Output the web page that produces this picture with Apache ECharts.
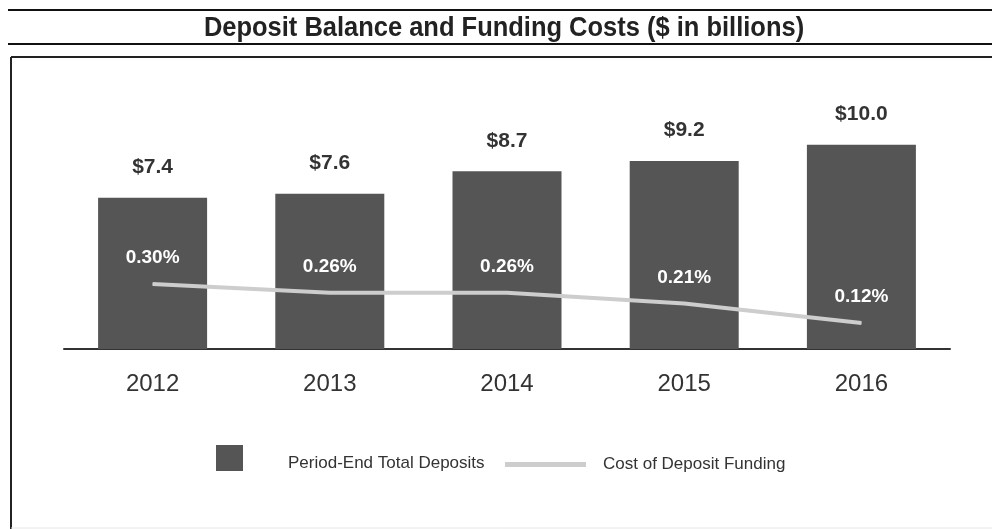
<!DOCTYPE html>
<html><head><meta charset="utf-8">
<script src="https://cdn.jsdelivr.net/npm/echarts@6/dist/echarts.min.js"></script>
<style>html,body{margin:0;padding:0;background:#fff}#c{width:992px;height:529px}</style>
</head><body><div id="c"></div>
<script>
const categories = ['2012', '2013', '2014', '2015', '2016'];
const deposits = [7.4, 7.6, 8.7, 9.2, 10.0];
const costOfFunding = [0.30, 0.26, 0.26, 0.21, 0.12];
const titleText = 'Deposit Balance and Funding Costs ($ in billions)';
const depositsName = 'Period-End Total Deposits';
const costName = 'Cost of Deposit Funding';

const FONT = '"Liberation Sans", Arial, sans-serif';
const chart = echarts.init(document.getElementById('c'), null, {renderer: 'canvas'});
chart.setOption({
  backgroundColor: '#fff',
  animation: false,
  graphic: [
    {type: 'line', shape: {x1: 8, y1: 10, x2: 992, y2: 10}, style: {stroke: '#111', lineWidth: 2}},
    {type: 'line', shape: {x1: 8, y1: 44, x2: 992, y2: 44}, style: {stroke: '#111', lineWidth: 2}},
    {type: 'line', shape: {x1: 11, y1: 57, x2: 992, y2: 57}, style: {stroke: '#222', lineWidth: 2}},
    {type: 'line', shape: {x1: 11, y1: 57, x2: 11, y2: 529}, style: {stroke: '#222', lineWidth: 2}},
    {type: 'line', shape: {x1: 11, y1: 528, x2: 992, y2: 528}, style: {stroke: '#e6e6e6', lineWidth: 1}},
    {type: 'text', x: 504, y: 28, scaleX: 0.91, z: 10,
     style: {text: titleText, font: 'bold 28px ' + FONT, fill: '#222', textAlign: 'center', textVerticalAlign: 'middle', verticalAlign: 'middle'}}
  ],
  legend: [
    {data: [depositsName], left: 216, top: 445, itemWidth: 27, itemHeight: 26, icon: 'rect', padding: 0,
     formatter: '{a|{name}}',
     textStyle: {fontFamily: FONT, fontSize: 17, color: '#333',
       rich: {a: {fontFamily: FONT, fontSize: 17, color: '#333', padding: [11, 0, 0, 40]}}}},
    {data: [costName], left: 505, top: 456, itemWidth: 81, itemHeight: 5, icon: 'rect', padding: 0,
     textStyle: {fontFamily: FONT, fontSize: 17, color: '#333', padding: [0, 0, 0, 12]}}
  ],
  grid: {left: 64, right: 42, top: 63, bottom: 180},
  xAxis: {
    type: 'category', data: categories,
    axisLine: {lineStyle: {color: '#333', width: 2}},
    axisTick: {show: false},
    axisLabel: {fontFamily: FONT, fontSize: 24, lineHeight: 24, color: '#333', margin: 23}
  },
  yAxis: [
    {type: 'value', min: 0, max: 14, show: false, splitLine: {show: false}},
    {type: 'value', min: 0, max: 1.32, show: false, splitLine: {show: false}}
  ],
  series: [
    {
      name: depositsName, type: 'bar', data: deposits, barWidth: 109,
      itemStyle: {color: '#555555'},
      label: {show: true, position: 'top', distance: 20, formatter: p => '$' + p.value.toFixed(1),
        fontFamily: FONT, fontWeight: 'bold', fontSize: 21, color: '#333'}
    },
    {
      name: costName, type: 'line', yAxisIndex: 1, data: costOfFunding,
      symbol: 'circle', symbolSize: 1, showSymbol: true,
      lineStyle: {color: '#cdcdcd', width: 4}, itemStyle: {color: '#cdcdcd'},
      label: {show: true, position: 'top', distance: 16, formatter: p => p.value.toFixed(2) + '%',
        fontFamily: FONT, fontWeight: 'bold', fontSize: 19, color: '#fff'},
      z: 3
    }
  ]
});
</script></body></html>
